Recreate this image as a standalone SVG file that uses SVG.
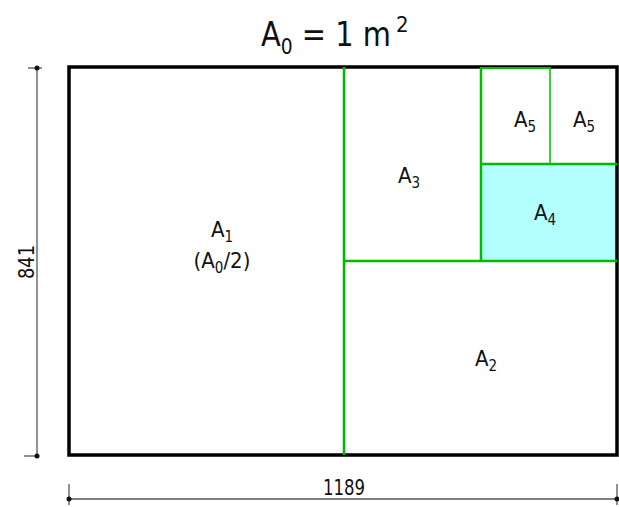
<svg xmlns="http://www.w3.org/2000/svg" width="619" height="507" viewBox="0 0 619 507">
<style>
text{font-family:"DejaVu Sans Condensed","DejaVu Sans","Liberation Sans",sans-serif;font-stretch:condensed;fill:#111;text-anchor:middle}
.lbl{font-size:22px}
.sub{font-size:15px}
.g{stroke:#00bb00;fill:none}
.dim{stroke:#555;stroke-width:1.3;fill:none}
</style>
<rect x="0" y="0" width="619" height="507" fill="#fff"/>
<g id="title"><text x="326" y="46" style="font-size:34px" textLength="130" lengthAdjust="spacingAndGlyphs">A<tspan style="font-size:22px" dy="8">0</tspan><tspan dy="-8"> = 1 m</tspan></text><text x="396" y="32" style="font-size:22px;text-anchor:start">2</text></g>
<g id="A4"><rect x="481" y="164" width="136" height="97" fill="#b3ffff"/><text class="lbl" x="545" y="220">A<tspan class="sub" dy="5">4</tspan></text></g>
<g id="sheet"><rect x="69" y="67" width="548" height="388" fill="none" stroke="#000" stroke-width="3.5"/></g>
<g id="connectors">
<line class="g" x1="344" y1="67" x2="344" y2="455" stroke-width="2.5"/>
<line class="g" x1="344" y1="261" x2="617" y2="261" stroke-width="2.5"/>
<line class="g" x1="481" y1="67" x2="481" y2="261" stroke-width="2.5"/>
<line class="g" x1="481" y1="164" x2="617" y2="164" stroke-width="2.5"/>
<line class="g" x1="550" y1="67" x2="550" y2="164" stroke-width="1.5"/>
<line class="g" x1="481" y1="68" x2="550" y2="68" stroke-width="2"/>
</g>
<g id="A1"><text class="lbl" x="222" y="237">A<tspan class="sub" dy="5">1</tspan></text><text class="lbl" x="222" y="268">(A<tspan class="sub" dy="5">0</tspan><tspan dy="-5">/2)</tspan></text></g>
<g id="A2"><text class="lbl" x="486" y="366">A<tspan class="sub" dy="5">2</tspan></text></g>
<g id="A3"><text class="lbl" x="409" y="183">A<tspan class="sub" dy="5">3</tspan></text></g>
<g id="A5a"><text class="lbl" x="525" y="127">A<tspan class="sub" dy="5">5</tspan></text></g>
<g id="A5b"><text class="lbl" x="584" y="127">A<tspan class="sub" dy="5">5</tspan></text></g>
<g id="dim-h">
<line class="dim" x1="37" y1="68" x2="37" y2="456"/>
<line class="dim" x1="28" y1="68" x2="42" y2="68"/>
<line class="dim" x1="24" y1="456" x2="38" y2="456"/>
<circle cx="37" cy="68" r="2.5" fill="#111"/><circle cx="37" cy="456" r="2.5" fill="#111"/>
<text class="lbl" transform="translate(34 262) rotate(-90)" textLength="34" lengthAdjust="spacingAndGlyphs">841</text>
</g>
<g id="dim-w">
<line class="dim" x1="69" y1="499" x2="617" y2="499"/>
<line class="dim" x1="69" y1="484" x2="69" y2="505"/>
<line class="dim" x1="617" y1="484" x2="617" y2="505"/>
<circle cx="69" cy="499" r="2.5" fill="#111"/><circle cx="617" cy="499" r="2.5" fill="#111"/>
<text class="lbl" x="344" y="495" textLength="42" lengthAdjust="spacingAndGlyphs">1189</text>
</g>
</svg>
